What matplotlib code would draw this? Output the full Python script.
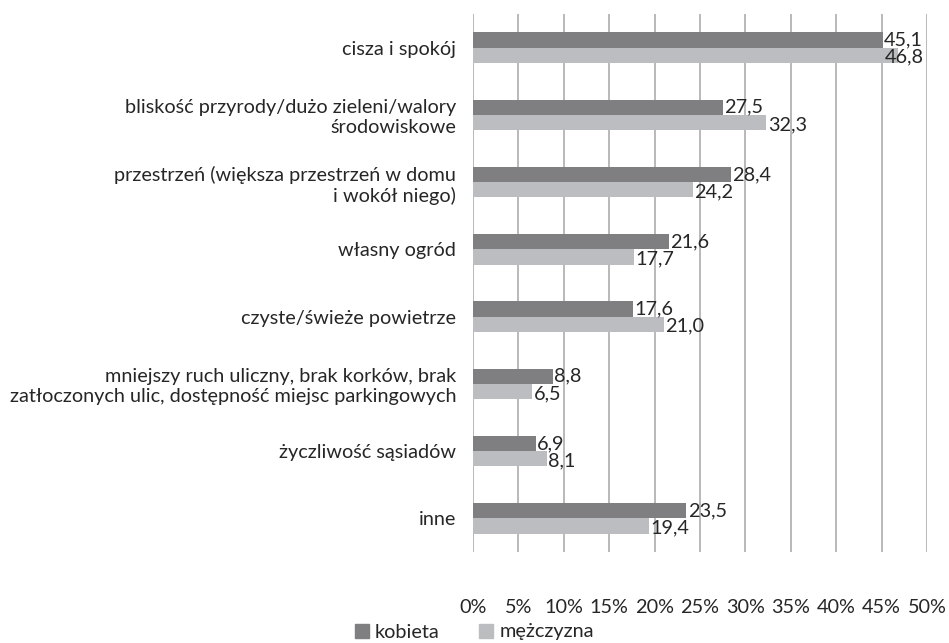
import matplotlib
matplotlib.use("Agg")
import matplotlib.pyplot as plt
import numpy as np
from matplotlib.patches import Patch

categories = [
    "cisza i spokój",
    "bliskość przyrody/dużo zieleni/walory\nśrodowiskowe",
    "przestrzeń (większa przestrzeń w domu\ni wokół niego)",
    "własny ogród",
    "czyste/świeże powietrze",
    "mniejszy ruch uliczny, brak korków, brak\nzatłoczonych ulic, dostępność miejsc parkingowych",
    "życzliwość sąsiadów",
    "inne",
]
kobieta = [45.1, 27.5, 28.4, 21.6, 17.6, 8.8, 6.9, 23.5]
mezczyzna = [46.8, 32.3, 24.2, 17.7, 21.0, 6.5, 8.1, 19.4]
series_names = ["kobieta", "mężczyzna"]
xticks = [0, 5, 10, 15, 20, 25, 30, 35, 40, 45, 50]
xticklabels = [f"{t}%" for t in xticks]

plt.rcParams['font.family'] = ['Lato', 'DejaVu Sans']
FS = 14.3
dark = "#7f7f81"
light = "#bcbdc0"
txt = "#262626"

fig = plt.figure(figsize=(9.49, 6.43), dpi=100)
ax = fig.add_axes([473/949, 1-552/643, (927-473)/949, (552-14)/643])

n = len(categories)
y = np.arange(n)
h = 0.225
ax.barh(y - h/2, kobieta, height=h, color=dark, zorder=3)
ax.barh(y + h/2, mezczyzna, height=h, color=light, zorder=3)

for yi, v in zip(y, kobieta):
    ax.text(min(v, 45.2) + 0.15, yi - h/2, f"{v:.1f}".replace('.', ','), va='center', ha='left',
            fontsize=FS, color=txt, zorder=4)
for yi, v in zip(y, mezczyzna):
    ax.text(min(v, 45.2) + 0.15, yi + h/2 + 0.03, f"{v:.1f}".replace('.', ','), va='center', ha='left',
            fontsize=FS, color=txt, zorder=4)

ax.set_ylim(n - 0.5, -0.5)
ax.set_xlim(0, 50)
ax.set_yticks(y)
ax.set_yticklabels(categories, fontsize=FS, color=txt, ha='right', multialignment='right')
ax.set_xticks(xticks)
ax.set_xticklabels(xticklabels, fontsize=FS, color=txt)
ax.tick_params(axis='both', length=0)
ax.tick_params(axis='y', pad=12)
ax.tick_params(axis='x', pad=34)
ax.grid(axis='x', color='#a6a6a6', linewidth=1.1, zorder=0)
for s in ax.spines.values():
    s.set_visible(False)

handles = [Patch(color=dark), Patch(color=light)]
fig.legend(handles, series_names, loc='center', bbox_to_anchor=(0.5, 1-632/643), ncol=2,
           frameon=False, fontsize=FS, handlelength=0.7, handleheight=0.7,
           handletextpad=0.3, columnspacing=2.0, labelcolor=txt)

fig.savefig("out.png", dpi=100)
